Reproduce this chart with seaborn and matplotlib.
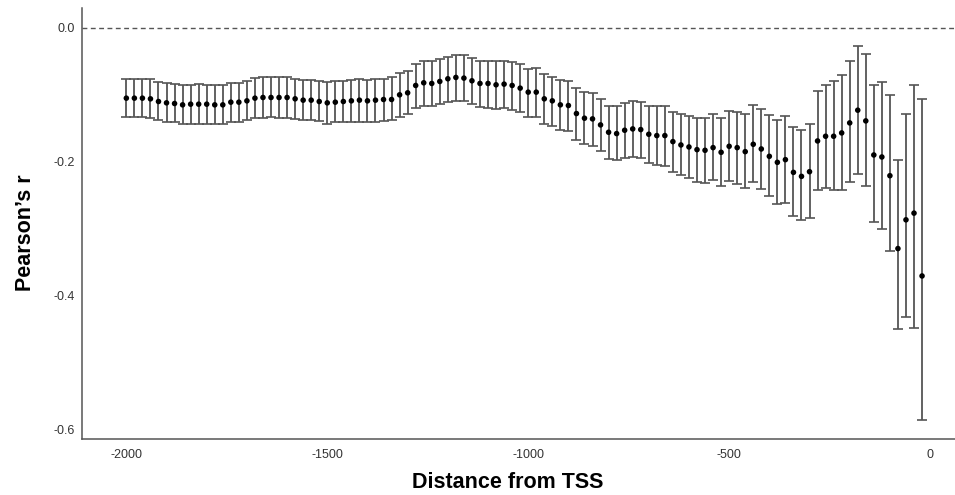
import numpy as np
import pandas as pd
import matplotlib
matplotlib.use("Agg")
import matplotlib.pyplot as plt
import seaborn as sns

# distance from TSS, one window every 20 bp
distance = list(range(-2000, 0, 20))

# Pearson's r per window
pearson_r = [
    -0.105, -0.105, -0.105, -0.106, -0.110, -0.112, -0.113, -0.115, -0.114, -0.114,
    -0.114, -0.115, -0.115, -0.111, -0.111, -0.109, -0.105, -0.104, -0.104, -0.104,
    -0.104, -0.106, -0.108, -0.108, -0.110, -0.112, -0.111, -0.110, -0.109, -0.108,
    -0.109, -0.108, -0.107, -0.107, -0.100, -0.097, -0.086, -0.082, -0.083, -0.080,
    -0.076, -0.074, -0.075, -0.079, -0.083, -0.083, -0.085, -0.084, -0.086, -0.090,
    -0.096, -0.096, -0.106, -0.109, -0.115, -0.116, -0.128, -0.135, -0.136, -0.145,
    -0.156, -0.158, -0.153, -0.151, -0.152, -0.159, -0.161, -0.161, -0.170, -0.175,
    -0.178, -0.182, -0.183, -0.179, -0.186, -0.177, -0.179, -0.185, -0.174, -0.181,
    -0.192, -0.201, -0.197, -0.216, -0.222, -0.215, -0.169, -0.162, -0.162, -0.157,
    -0.142, -0.123, -0.139, -0.190, -0.193, -0.221, -0.330, -0.287, -0.277, -0.371,
]

# 95% CI bounds
ci_upper = [
    -0.076, -0.076, -0.076, -0.076, -0.081, -0.083, -0.084, -0.086, -0.085, -0.084,
    -0.085, -0.086, -0.086, -0.082, -0.082, -0.079, -0.075, -0.074, -0.073, -0.074,
    -0.074, -0.076, -0.078, -0.078, -0.079, -0.081, -0.080, -0.079, -0.078, -0.077,
    -0.078, -0.077, -0.076, -0.074, -0.068, -0.064, -0.054, -0.050, -0.050, -0.047,
    -0.044, -0.041, -0.041, -0.045, -0.049, -0.049, -0.050, -0.049, -0.051, -0.054,
    -0.061, -0.060, -0.069, -0.073, -0.078, -0.079, -0.090, -0.096, -0.098, -0.106,
    -0.116, -0.117, -0.112, -0.109, -0.110, -0.116, -0.117, -0.116, -0.125, -0.129,
    -0.132, -0.135, -0.134, -0.129, -0.135, -0.124, -0.125, -0.128, -0.115, -0.121,
    -0.130, -0.138, -0.131, -0.148, -0.152, -0.144, -0.095, -0.085, -0.080, -0.071,
    -0.050, -0.027, -0.039, -0.085, -0.081, -0.101, -0.198, -0.129, -0.086, -0.106,
]

ci_lower = [
    -0.133, -0.133, -0.133, -0.134, -0.138, -0.140, -0.141, -0.144, -0.143, -0.143,
    -0.143, -0.144, -0.144, -0.140, -0.140, -0.138, -0.135, -0.134, -0.133, -0.134,
    -0.134, -0.136, -0.138, -0.138, -0.139, -0.143, -0.141, -0.141, -0.140, -0.140,
    -0.141, -0.140, -0.139, -0.138, -0.133, -0.129, -0.119, -0.116, -0.116, -0.114,
    -0.110, -0.109, -0.109, -0.114, -0.118, -0.119, -0.121, -0.120, -0.122, -0.126,
    -0.133, -0.133, -0.143, -0.147, -0.153, -0.154, -0.167, -0.174, -0.176, -0.184,
    -0.196, -0.197, -0.195, -0.193, -0.194, -0.202, -0.205, -0.206, -0.215, -0.220,
    -0.224, -0.230, -0.232, -0.228, -0.237, -0.229, -0.233, -0.240, -0.231, -0.241,
    -0.252, -0.264, -0.262, -0.281, -0.288, -0.284, -0.242, -0.239, -0.242, -0.242,
    -0.231, -0.218, -0.237, -0.291, -0.300, -0.334, -0.450, -0.432, -0.449, -0.587,
]

df = pd.DataFrame({"distance": distance, "r": pearson_r,
                   "lo": ci_lower, "hi": ci_upper})

sns.set_theme(style="white")
plt.rcParams["font.family"] = ["Liberation Sans", "DejaVu Sans"]
plt.rcParams["axes.unicode_minus"] = False

fig = plt.figure(figsize=(9.55, 4.95), dpi=100)
ax = fig.add_axes([0.086, 0.113, 0.914, 0.871])

# reference line at r = 0
ax.axhline(0, color="#555555", lw=1.0, ls=(0, (3.5, 2.5)), zorder=1)

# confidence intervals
yerr = np.array([df["r"] - df["lo"], df["hi"] - df["r"]])
ax.errorbar(df["distance"], df["r"], yerr=yerr, fmt="none",
            ecolor="#555555", elinewidth=1.3, capsize=3.6, capthick=1.2, zorder=2)

sns.scatterplot(data=df, x="distance", y="r", color="black", s=16,
                edgecolor="none", ax=ax, zorder=3)

ax.set_xlim(-2110, 62)
ax.set_ylim(-0.615, 0.030)
ax.set_xticks([-2000, -1500, -1000, -500, 0])
ax.set_yticks([0.0, -0.2, -0.4, -0.6])
ax.set_yticklabels(["0.0", "-0.2", "-0.4", "-0.6"])

ax.tick_params(axis="both", length=0, labelsize=9, labelcolor="#333333")
ax.tick_params(axis="x", pad=7)
ax.tick_params(axis="y", pad=5)

ax.set_xlabel("Distance from TSS", fontsize=15.5, fontweight="bold",
              color="black", labelpad=8, x=0.488)
ax.set_ylabel("Pearson’s r", fontsize=15.5, fontweight="bold",
              color="black", labelpad=13, y=0.479)

sns.despine(ax=ax)
for side in ["left", "bottom"]:
    ax.spines[side].set_color("#555555")
    ax.spines[side].set_linewidth(1.1)

fig.savefig("out.png", dpi=100)
